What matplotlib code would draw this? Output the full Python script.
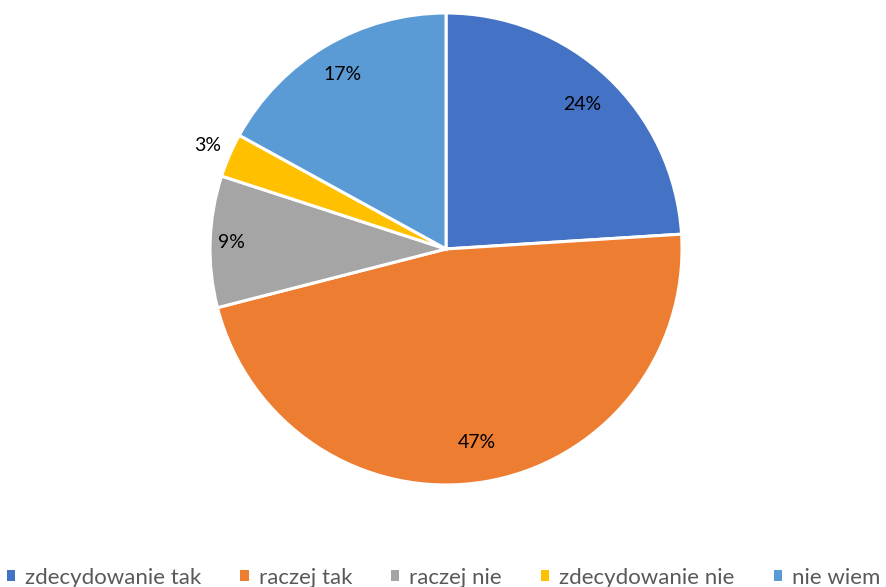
import numpy as np
import matplotlib
matplotlib.use('Agg')
import matplotlib.pyplot as plt
from matplotlib.patches import Patch

categories = ['zdecydowanie tak', 'raczej tak', 'raczej nie', 'zdecydowanie nie', 'nie wiem']
values = [24, 47, 9, 3, 17]
colors = ['#4472C4', '#ED7D31', '#A5A5A5', '#FFC000', '#5B9BD5']
label_dist = [0.84, 0.83, 0.91, 1.10, 0.86]

plt.rcParams['font.family'] = ['Lato', 'DejaVu Sans']

fig = plt.figure(figsize=(8.87, 5.87), dpi=100)
ax = fig.add_axes([0.2368, 0.1738, 0.5321, 0.8041])

wedges, _ = ax.pie(values, colors=colors, startangle=90, counterclock=False,
                   radius=1.0, wedgeprops=dict(edgecolor='white', linewidth=2.2))

for w, v, d in zip(wedges, values, label_dist):
    ang = np.deg2rad((w.theta1 + w.theta2) / 2)
    ax.text(d * np.cos(ang), d * np.sin(ang), f'{v}%', ha='center', va='center',
            fontsize=14, color='#000000')

ax.set_xlim(-1, 1)
ax.set_ylim(-1, 1)
ax.set_aspect('equal')
ax.axis('off')

handles = [Patch(facecolor=c, edgecolor='none') for c in colors]
fig.legend(handles, categories, loc='lower center', ncol=5, frameon=False,
           bbox_to_anchor=(0.5, -0.035), fontsize=16, labelcolor='#595959',
           handlelength=0.38, handleheight=0.38, handletextpad=0.45, columnspacing=1.75)

fig.savefig('out.png', dpi=100)
